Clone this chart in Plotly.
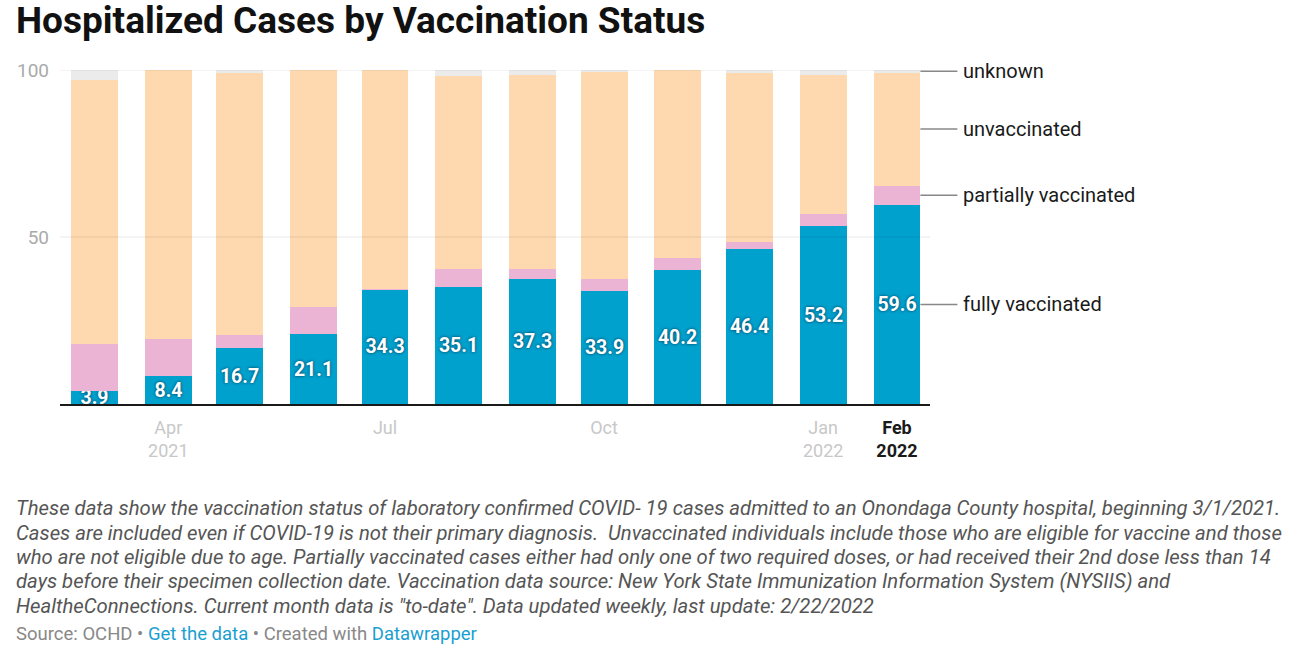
import plotly.graph_objects as go
import pandas as pd

months = ["2021-03-01", "2021-04-01", "2021-05-01", "2021-06-01", "2021-07-01", "2021-08-01",
          "2021-09-01", "2021-10-01", "2021-11-01", "2021-12-01", "2022-01-01", "2022-02-01"]
fully = [3.9, 8.4, 16.7, 21.1, 34.3, 35.1, 37.3, 33.9, 40.2, 46.4, 53.2, 59.6]
partial = [14.0, 11.0, 3.9, 7.9, 0.1, 5.2, 3.0, 3.5, 3.5, 2.0, 3.6, 5.8]
unvaccinated = [79.0, 80.6, 78.6, 71.0, 65.6, 57.8, 58.1, 62.2, 56.3, 50.8, 41.8, 33.8]
unknown = [3.1, 0.0, 0.8, 0.0, 0.0, 1.9, 1.6, 0.4, 0.0, 0.8, 1.4, 0.8]

series_names = ["fully vaccinated", "partially vaccinated", "unvaccinated", "unknown"]
colors = ["#00a1cd", "#ebb4d5", "#fed9b0", "#ebebeb"]

tick_vals = ["2021-04-01", "2021-07-01", "2021-10-01", "2022-01-01", "2022-02-01"]
tick_text = ["Apr<br>2021", "Jul", "Oct", "Jan<br>2022",
             '<span style="color:#1a1a1a"><b>Feb</b></span><br><span style="color:#1a1a1a"><b>2022</b></span>']

title = "Hospitalized Cases by Vaccination Status"
notes = [
    "These data show the vaccination status of laboratory confirmed COVID- 19 cases admitted to an Onondaga County hospital, beginning 3/1/2021.",
    "Cases are included even if COVID-19 is not their primary diagnosis.  Unvaccinated individuals include those who are eligible for vaccine and those",
    "who are not eligible due to age. Partially vaccinated cases either had only one of two required doses, or had received their 2nd dose less than 14",
    "days before their specimen collection date. Vaccination data source: New York State Immunization Information System (NYSIIS) and",
    "HealtheConnections. Current month data is \"to-date\". Data updated weekly, last update: 2/22/2022",
]
source = ('Source: OCHD • <span style="color:#1a9fd0">Get the data</span> • Created with '
          '<span style="color:#1a9fd0">Datawrapper</span>')

W, H = 1301, 669
L, R, T, B = 60, 930, 70, 404
x_range = [pd.Timestamp("2021-02-14 12:00"), pd.Timestamp("2022-02-14 21:00")]
bar_days = 19.7
bar_width_ms = bar_days * 86400000

def px_x(p):
    return (p - L) / (R - L)

def px_y(p):
    return (B - p) / (B - T)

def date_to_paper(ts):
    return (ts - x_range[0]) / (x_range[1] - x_range[0])

fig = go.Figure()
all_series = [fully, partial, unvaccinated, unknown]
for i, (name, vals) in enumerate(zip(series_names, all_series)):
    kw = {}
    if i == 0:
        kw = dict(text=[f"{v:.1f}" for v in vals], textposition="inside",
                  insidetextanchor="middle", constraintext="none", textangle=0,
                  textfont=dict(family="Roboto", size=19.5, color="white", weight=700,
                                shadow="0px 0px 3px rgba(0,40,70,0.9)"))
    fig.add_trace(go.Bar(x=months, y=vals, name=name, width=bar_width_ms,
                         marker=dict(color=colors[i], line=dict(width=0)),
                         hoverinfo="skip", showlegend=False, **kw))

# gridlines above bars (semi-transparent)
for gy in [50, 100]:
    fig.add_shape(type="line", xref="paper", yref="y", x0=0, x1=1, y0=gy, y1=gy,
                  line=dict(color="rgba(0,0,0,0.09)", width=1), layer="above")

# direct labels for last bar
last = pd.Timestamp(months[-1])
p0 = date_to_paper(last + pd.Timedelta(days=bar_days / 2))
p1 = p0 + 37 / (R - L)
cum = 0
label_ys = []
for vals in all_series:
    label_ys.append(cum + vals[-1] / 2)
    cum += vals[-1]
for name, ly in zip(series_names, label_ys):
    fig.add_shape(type="line", xref="paper", yref="y", x0=p0, x1=p1,
                  y0=ly, y1=ly, line=dict(color="#888888", width=1.5), layer="above")
    fig.add_annotation(xref="paper", yref="y", x=p1, y=ly,
                       text=name, showarrow=False, xanchor="left", yanchor="middle", xshift=4,
                       font=dict(family="Roboto", size=20, color="#1a1a1a"))

# title
fig.add_annotation(xref="paper", yref="paper", x=px_x(14), y=px_y(20), text=f"<b>{title}</b>",
                   showarrow=False, xanchor="left", yanchor="middle",
                   font=dict(family="Roboto", size=37, color="#111111"))

note_y = [508, 532.5, 557, 581, 605.5]
for line, yy in zip(notes, note_y):
    fig.add_annotation(xref="paper", yref="paper", x=px_x(14), y=px_y(yy), text=line,
                       showarrow=False, xanchor="left", yanchor="middle",
                       font=dict(family="Roboto", size=20.3, color="#555555", style="italic"))

fig.add_annotation(xref="paper", yref="paper", x=px_x(14), y=px_y(634), text=source,
                   showarrow=False, xanchor="left", yanchor="middle",
                   font=dict(family="Roboto", size=18.5, color="#888888"))

fig.update_layout(
    width=W, height=H, barmode="stack", bargap=0,
    margin=dict(l=L, r=W - R, t=T, b=H - B, pad=0),
    paper_bgcolor="white", plot_bgcolor="white",
    font=dict(family="Roboto"),
    xaxis=dict(type="date", range=[str(x_range[0]), str(x_range[1])],
               tickvals=tick_vals, ticktext=tick_text, showgrid=False,
               tickfont=dict(family="Roboto", size=18, color="#c8c8c8"),
               ticks="", showline=True, linecolor="#1a1a1a", linewidth=2,
               ticklabelstandoff=6, zeroline=False),
    yaxis=dict(range=[0, 100], tickvals=[50, 100], showgrid=False, zeroline=False,
               tickfont=dict(family="Roboto", size=19, color="#aaaaaa"),
               ticks="", ticklabelstandoff=10, fixedrange=True),
)

fig.write_html("out.html")
